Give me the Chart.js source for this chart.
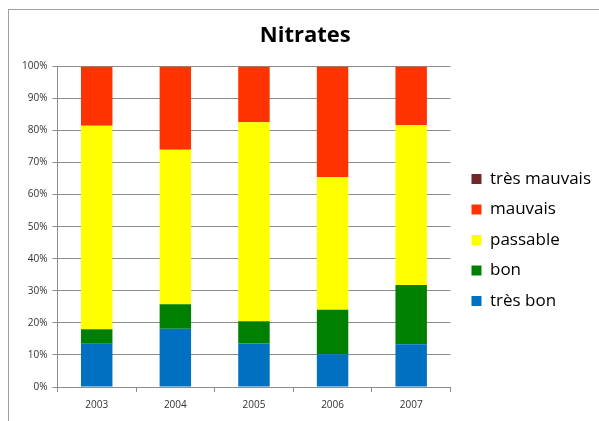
<!DOCTYPE html>
<html>
<head>
<meta charset="utf-8">
<script src="https://cdn.jsdelivr.net/npm/chart.js@4/dist/chart.umd.min.js"></script>
<style>
html,body{margin:0;padding:0;background:#fff;}
#wrap{position:relative;width:599px;height:421px;overflow:hidden;}
#frame{position:absolute;left:8px;top:9px;width:700px;height:500px;border-left:1px solid #a0a0a0;border-top:1px solid #a0a0a0;}
canvas{position:absolute;left:0;top:0;}
</style>
</head>
<body>
<div id="wrap">
<div id="frame"></div>
<canvas id="c" width="599" height="421"></canvas>
</div>
<script>
const years = ['2003','2004','2005','2006','2007'];
const tresBon = [13.5, 18.2, 13.6, 10.2, 13.3];
const bon = [4.5, 7.6, 6.9, 13.9, 18.5];
const passable = [63.5, 48.2, 62.1, 41.3, 49.9];
const mauvais = [18.5, 26.0, 17.4, 34.6, 18.3];
const tresMauvais = [0, 0, 0, 0, 0];
const seriesNames = ['très bon','bon','passable','mauvais','très mauvais'];
const seriesColors = ['#0070C0','#008000','#FFFF00','#FF3300','#722828'];
const seriesData = [tresBon, bon, passable, mauvais, tresMauvais];

const datasets = seriesNames.map((n,i)=>({
  label:n, data:seriesData[i], backgroundColor:seriesColors[i], borderWidth:0,
  barPercentage:0.4, categoryPercentage:1.0
}));

const legendShift = {
  id:'legendShift',
  afterUpdate(chart){
    const l = chart.legend;
    const dx = 7.5, dy = 25;
    l.left += dx; l.right += dx; l.top += dy; l.bottom += dy;
  }
};

new Chart(document.getElementById('c'), {
  type:'bar',
  data:{labels:years, datasets:datasets},
  plugins:[legendShift],
  options:{
    responsive:false, animation:false,
    layout:{padding:{left:17,right:5.5,top:12,bottom:3}},
    plugins:{
      title:{display:true,text:'Nitrates',font:{family:'Open Sans',size:22,weight:'bold'},color:'#000',padding:{top:11,bottom:17}},
      legend:{position:'right',reverse:true,
        labels:{font:{family:'Open Sans',size:17},color:'#000',boxWidth:10,boxHeight:10,padding:13.5}},
      tooltip:{enabled:false}
    },
    scales:{
      x:{stacked:true,
        grid:{display:true,offset:true,drawOnChartArea:false,tickLength:5,color:'#8c8c8c'},
        border:{display:true,color:'#8c8c8c'},
        ticks:{font:{family:'Open Sans',size:10},color:'#333',padding:7}},
      y:{stacked:true,min:0,max:100,
        grid:{color:'#8c8c8c',tickLength:5},
        border:{display:true,color:'#8c8c8c'},
        ticks:{stepSize:10,font:{family:'Open Sans',size:10},color:'#333',padding:5,callback:v=>v+'%'}}
    }
  }
});
</script>
</body>
</html>
